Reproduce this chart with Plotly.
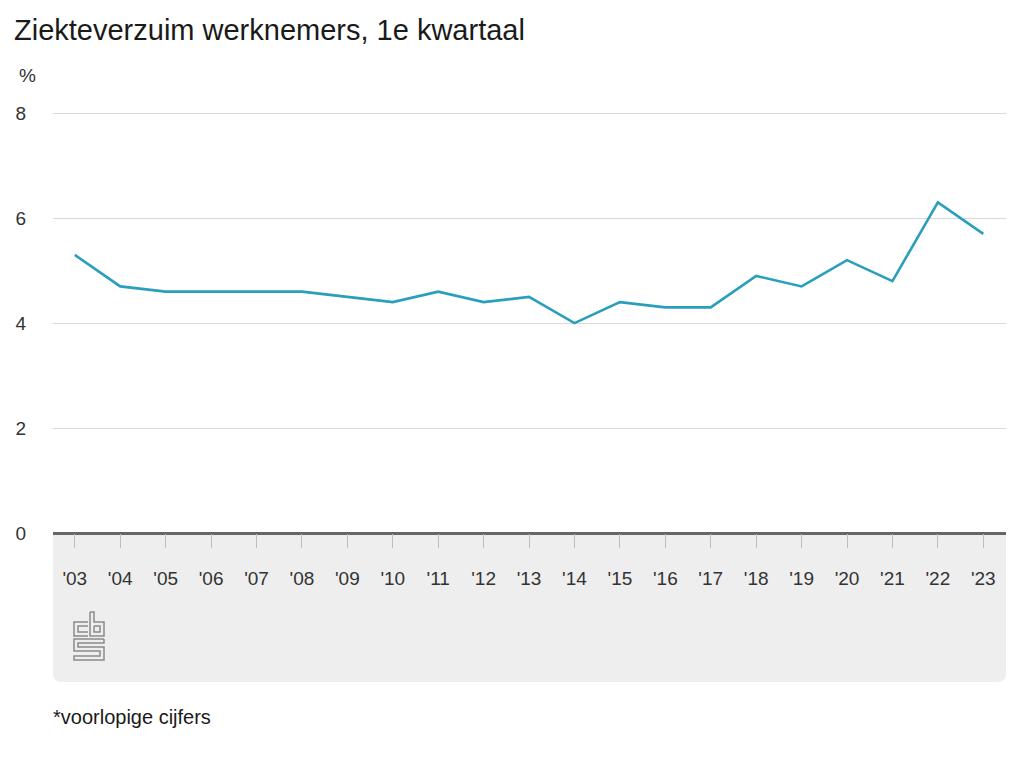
import plotly.graph_objects as go

years = list(range(2003, 2024))
tick_labels = ["'03", "'04", "'05", "'06", "'07", "'08", "'09", "'10", "'11", "'12",
               "'13", "'14", "'15", "'16", "'17", "'18", "'19", "'20", "'21", "'22", "'23"]
verzuim = [5.3, 4.7, 4.6, 4.6, 4.6, 4.6, 4.5, 4.4, 4.6, 4.4,
           4.5, 4.0, 4.4, 4.3, 4.3, 4.9, 4.7, 5.2, 4.8, 6.3, 5.7]
y_ticks = [0, 2, 4, 6, 8]

OFF = 8                      # page body margin
W, H = 1024 - OFF, 768 - OFF
# plot area in page pixel coordinates
L, R, B = 53, 1006, 533
UNIT = 52.5
YMAX = 8.1
T = B - YMAX * UNIT

def px(x):
    return (x - L) / (R - L)

def py(y):
    return (B - y) / (B - T)

fig = go.Figure()
fig.add_trace(go.Scatter(
    x=years, y=verzuim, mode="lines",
    line=dict(color="#2a9fbd", width=2.6),
    hoverinfo="x+y", showlegend=False,
))

shapes = []
# grey panel below axis with rounded bottom corners
r = 9
x0, x1, y0, y1 = 53, 1006, 533, 682
path = (f"M {px(x0)},{py(y0)} L {px(x1)},{py(y0)} L {px(x1)},{py(y1 - r)} "
        f"Q {px(x1)},{py(y1)} {px(x1 - r)},{py(y1)} L {px(x0 + r)},{py(y1)} "
        f"Q {px(x0)},{py(y1)} {px(x0)},{py(y1 - r)} Z")
shapes.append(dict(type="path", xref="paper", yref="paper", path=path,
                   fillcolor="#eeeeee", line=dict(width=0), layer="below"))

# cbs logo approximation
logo_col = "#8a8a8a"
def seg(pts):
    d = "M " + " L ".join(f"{px(a)},{py(b)}" for a, b in pts)
    shapes.append(dict(type="path", xref="paper", yref="paper", path=d,
                       line=dict(color=logo_col, width=1.5)))
# c
seg([(88, 622), (74, 622), (74, 636), (88, 636)])
seg([(88, 626), (78, 626), (78, 632), (88, 632)])
# b
seg([(90, 612), (90, 636), (104, 636), (104, 622), (94, 622), (94, 612), (90, 612)])
seg([(94, 626), (100, 626), (100, 632), (94, 632), (94, 626)])
# s
seg([(104, 639), (74, 639), (74, 651), (100, 651), (100, 656), (74, 656), (74, 660), (104, 660),
     (104, 647), (78, 647), (78, 643), (104, 643), (104, 639)])

fig.update_layout(
    width=W, height=H,
    margin=dict(l=L - OFF, r=W - (R - OFF), t=T - OFF, b=H - (B - OFF), pad=0),
    paper_bgcolor="white", plot_bgcolor="white",
    font=dict(family="Liberation Sans, Arial, sans-serif", size=19, color="#333333"),
    shapes=shapes,
    xaxis=dict(
        range=[2002.52, 2023.5], tickmode="array", tickvals=years, ticktext=tick_labels,
        showgrid=False, zeroline=False, showline=False, automargin=False,
        ticks="outside", ticklen=14, tickwidth=1, tickcolor="#bdbdbd",
        ticklabelstandoff=14, tickfont=dict(size=19, color="#333333"), fixedrange=True,
    ),
    yaxis=dict(
        range=[0, YMAX], tickmode="array", tickvals=y_ticks, ticktext=[str(v) for v in y_ticks],
        showgrid=True, gridcolor="#d9d9d9", gridwidth=1, automargin=False,
        zeroline=True, zerolinecolor="#666666", zerolinewidth=3,
        showline=False, ticks="", ticklabelstandoff=26,
        tickfont=dict(size=19, color="#333333"), fixedrange=True,
    ),
    annotations=[
        dict(text="Ziekteverzuim werknemers, 1e kwartaal", xref="paper", yref="paper",
             x=px(12), y=py(30), xanchor="left", yanchor="middle", showarrow=False,
             font=dict(size=29, color="#1a1a1a")),
        dict(text="%", xref="paper", yref="paper", x=px(17), y=py(75),
             xanchor="left", yanchor="middle", showarrow=False,
             font=dict(size=19, color="#333333")),
        dict(text="*voorlopige cijfers", xref="paper", yref="paper", x=px(51), y=py(717),
             xanchor="left", yanchor="middle", showarrow=False,
             font=dict(size=20, color="#1a1a1a")),
    ],
)

fig.write_html("out.html")
